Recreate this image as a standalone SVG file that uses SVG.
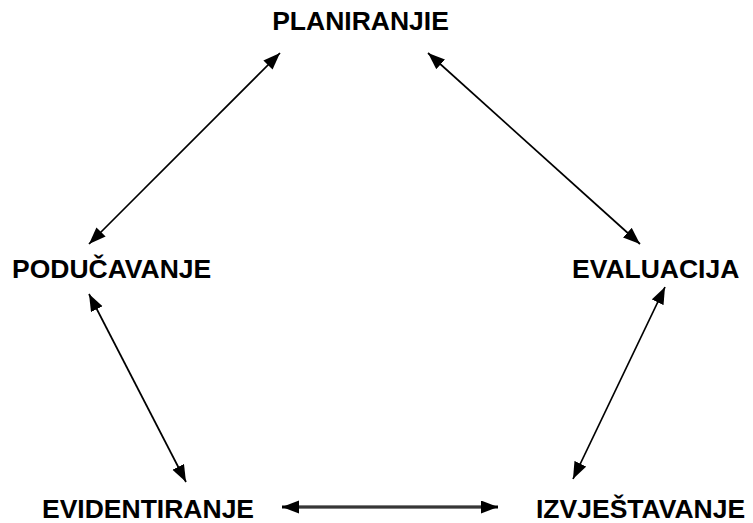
<svg xmlns="http://www.w3.org/2000/svg" width="753" height="523" viewBox="0 0 753 523">
<style>
.lbl{font-family:"Liberation Sans",Arial,sans-serif;font-weight:bold;font-size:26.5px;fill:#000}
.c{stroke:#000;stroke-width:1.7;fill:none;marker-start:url(#ah);marker-end:url(#ah)}
</style>
<defs>
<marker id="ah" markerUnits="userSpaceOnUse" markerWidth="18" markerHeight="14" refX="17" refY="6.5" orient="auto-start-reverse">
<path d="M0,0 L17,6.5 L0,13 z" fill="#000"/>
</marker>
</defs>
<rect width="753" height="523" fill="#fff"/>
<g id="connectors">
<line class="c" x1="280" y1="53" x2="89" y2="244"/>
<line class="c" x1="428" y1="53" x2="640" y2="244"/>
<line class="c" x1="89" y1="294" x2="186" y2="482"/>
<line class="c" x1="665" y1="287" x2="573" y2="479"/>
<line class="c" x1="282" y1="507" x2="498" y2="507" style="stroke-width:3"/>
<line x1="299" y1="507" x2="481" y2="507" stroke="#888" stroke-width="0.8"/>
</g>
<g id="planiranjie"><text class="lbl" x="360.5" y="30" text-anchor="middle">PLANIRANJIE</text></g>
<g id="podučavanje"><text class="lbl" x="12" y="278">PODUČAVANJE</text></g>
<g id="evaluacija"><text class="lbl" x="572" y="278">EVALUACIJA</text></g>
<g id="evidentiranje"><text class="lbl" x="42" y="518">EVIDENTIRANJE</text></g>
<g id="izvjestavanje"><text class="lbl" x="536" y="518">IZVJEŠTAVANJE</text></g>
</svg>
